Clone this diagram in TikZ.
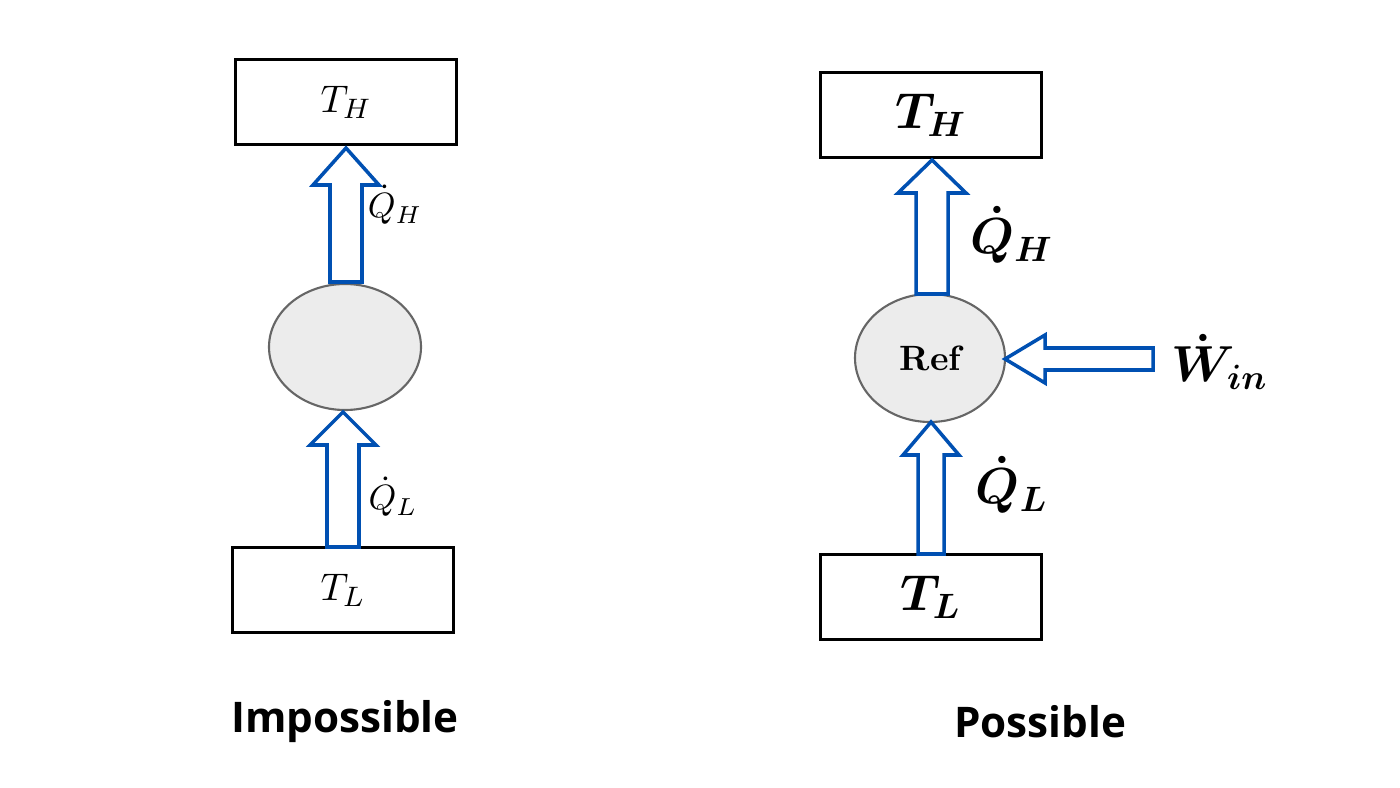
\documentclass[tikz,border=0pt]{standalone}
\usepackage{amsmath,amssymb}
\usepackage{fontspec}
\newfontfamily\capfont{Open Sans}
\usetikzlibrary{calc}

\newlength{\pxu}\setlength{\pxu}{0.01cm}
\tikzset{
  res/.style={draw,line width=0.8pt,minimum width=221\pxu,minimum height=85\pxu},
  eng/.style={draw=gray!80!black,fill=gray!15,line width=0.6pt},
  flow/.style={draw=blue!55!cyan!70!black,line width=1pt,fill=white,line join=miter},
  caption/.style={font=\capfont\bfseries\fontsize{12}{14}\selectfont}
}
% block arrow: tail, head tip, half shaft, half head, head length (vertical)
\newcommand{\upflow}[5]{%
  \draw[flow] ($(#1)+(-#3,0)$) -- ($(#2)+(-#3,#5)$) -- ($(#2)+(-#4,#5)$) -- (#2)
    -- ($(#2)+(#4,#5)$) -- ($(#2)+(#3,#5)$) -- ($(#1)+(#3,0)$) -- cycle;}

\begin{document}
\begin{tikzpicture}[x=0.01cm,y=-0.01cm]
  \useasboundingbox (0,0) rectangle (1400,788);
  % Impossible
  \node[res] (thL) at (346,102) {\fontsize{11}{13}\selectfont$T_H$};
  \node[res] (tlL) at (343,590) {\fontsize{11}{13}\selectfont$T_L$};
  \draw[eng] (345,347) ellipse [x radius=76, y radius=63];
  \coordinate (qhA) at (346,282); \coordinate (qhB) at (346,148);
  \coordinate (qlA) at (343,547); \coordinate (qlB) at (343,412);
  \upflow{qhA}{qhB}{16}{33}{37}
  \upflow{qlA}{qlB}{16}{33}{33}
  \node (qhl) at (395,205) {\fontsize{10}{12}\selectfont$\dot Q_H$};
  \node (qll) at (393,497) {\fontsize{10}{12}\selectfont$\dot Q_L$};
  \node[caption] (imp) at (345,722) {Impossible};
  % Possible
  \node[res] (thR) at (931,115) {\fontsize{14}{16}\selectfont$\boldsymbol{T_H}$};
  \node[res] (tlR) at (931,597) {\fontsize{14}{16}\selectfont$\boldsymbol{T_L}$};
  \draw[eng] (930,358) ellipse [x radius=75, y radius=64];
  \node (ref) at (932,358) {\fontsize{10}{12}\selectfont\textbf{Ref}};
  \coordinate (rhA) at (932,294); \coordinate (rhB) at (932,160);
  \coordinate (rlA) at (931,554); \coordinate (rlB) at (931,422);
  \upflow{rhA}{rhB}{16}{34}{33}
  \upflow{rlA}{rlB}{13}{28}{33}
  \coordinate (wA) at (1153,359); \coordinate (wB) at (1005,359);
  \draw[flow] ($(wA)+(0,-11)$) -- ($(wB)+(40,-11)$) -- ($(wB)+(40,-24)$) -- (wB)
    -- ($(wB)+(40,24)$) -- ($(wB)+(40,11)$) -- ($(wA)+(0,11)$) -- cycle;
  \node (rhl) at (1012,235) {\fontsize{14}{16}\selectfont$\boldsymbol{\dot Q_H}$};
  \node (rll) at (1012,485) {\fontsize{14}{16}\selectfont$\boldsymbol{\dot Q_L}$};
  \node (win) at (1220,362) {\fontsize{14}{16}\selectfont$\boldsymbol{\dot W_{in}}$};
  \node[caption] (pos) at (1040,722) {Possible};
\end{tikzpicture}
\end{document}
